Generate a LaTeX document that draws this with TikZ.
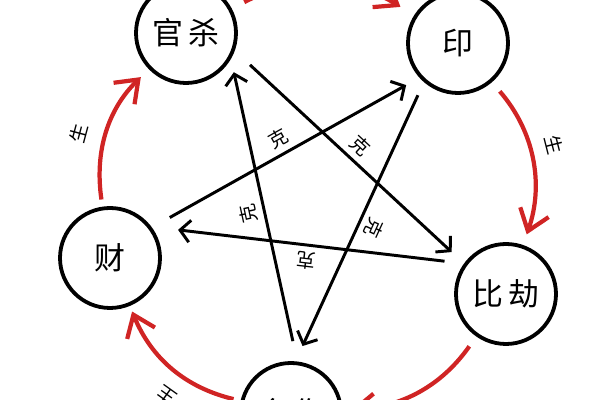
\documentclass[tikz,border=0pt]{standalone}
\usepackage{fontspec}
\newfontfamily\cjk{Noto Sans CJK SC}
\usetikzlibrary{arrows.meta}
\definecolor{shengred}{RGB}{208,36,36}

\begin{document}
\begin{tikzpicture}[
  star/.style={circle,draw,line width=2.7pt,minimum size=2.5cm,inner sep=0pt,font=\cjk\fontsize{22}{22}\selectfont},
  ke/.style={line width=2.1pt,-{Straight Barb[length=2.5mm,width=5.5mm]}},
  sheng/.style={shengred,line width=3pt,-{Straight Barb[length=5mm,width=7.5mm]}},
  word/.style={sloped,allow upside down,inner sep=1pt,text=black,font=\cjk\fontsize{13.5}{13.5}\selectfont}
]
  \clip (0,0) rectangle (15,10);
  \node[star] (guan) at (4.65,9.175) {官\hspace{0.15cm}杀};
  \node[star] (yin) at (11.45,8.925) {印};
  \node[star] (bi) at (12.65,2.65) {比\hspace{0.15cm}劫};
  \node[star] (shi) at (7.275,-0.325) {食\hspace{0.15cm}伤};
  \node[star] (cai) at (2.75,3.55) {财};

  \draw[sheng,shorten <=0.18cm,shorten >=0.28cm] (cai) to[bend left=27] node[word,above=0.38cm,pos=0.44] {生} (guan);
  \draw[sheng,shorten <=0.35cm,shorten >=0.4cm] (guan) to[bend left=30] (yin);
  \draw[sheng,shorten <=0.3cm,shorten >=0.28cm] (yin) to[bend left=30] node[word,above=0.34cm,pos=0.45] {生} (bi);
  \draw[sheng,shorten <=0.3cm,shorten >=0.2cm] (bi) to[bend left=26] node[word,above=0.38cm] {生} (shi);
  \draw[sheng,shorten <=0.18cm,shorten >=0.15cm] (shi) to[bend left=27] node[word,above=0.34cm,pos=0.42] {生} (cai);

  \draw[ke,shorten <=0.52cm,shorten >=0.42cm] (guan.-20.6) -- node[word,above=0.1cm] {克} (bi.144.7);
  \draw[ke,shorten <=0.49cm,shorten >=0.67cm] (bi.144.3) -- node[word,above=0.1cm] {克} (cai.37.7);
  \draw[ke,shorten <=0.51cm,shorten >=0.38cm] (cai.36) -- node[word,above=0.1cm] {克} (yin.222.5);
  \draw[ke,shorten <=0.36cm,shorten >=0.42cm] (yin.229.8) -- node[word,above=0.1cm] {克} (shi.85.5);
  \draw[ke,shorten <=0.52cm,shorten >=0.34cm] (shi.83.9) -- node[word,above=0.1cm] {克} (guan.-30.1);
\end{tikzpicture}
\end{document}
